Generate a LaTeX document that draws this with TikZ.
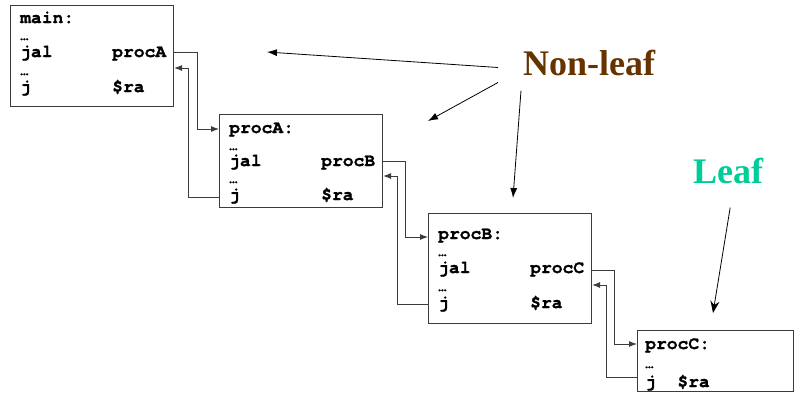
\documentclass[tikz,border=0pt]{standalone}
\usepackage{fontspec}
\setmainfont{Liberation Serif}
\setmonofont{TeX Gyre Cursor}[BoldFeatures={FakeBold=1.2}]
\usetikzlibrary{arrows.meta}

\definecolor{boxline}{RGB}{60,60,60}
\definecolor{nonleafbrown}{RGB}{102,51,0}
\definecolor{leafgreen}{RGB}{0,204,153}

% "jal <target>" with the target in the second column
\newcommand{\jalto}[1]{\makebox[92pt][l]{jal}#1}
\newcommand{\jra}{\makebox[92pt][l]{j}\$ra}

\begin{document}
\begin{tikzpicture}[x=1pt,y=-1pt,
  frame/.style={draw=boxline, line width=1.1pt, anchor=north west, inner sep=0pt},
  code/.style={font=\ttfamily\bfseries\fontsize{18pt}{18pt}\selectfont, inner sep=0pt, anchor=base west},
  dots/.style={font=\ttfamily\bfseries\fontsize{14pt}{14pt}\selectfont, inner sep=0pt, anchor=base west},
  bigword/.style={font=\bfseries\fontsize{36pt}{36pt}\selectfont, inner sep=0pt, anchor=base west},
  conn/.style={draw=boxline, line width=0.9pt, -{Latex[length=8pt,width=6pt]}},
  pointer/.style={line width=0.8pt, -{Latex[length=10pt,width=7pt]}},
  leafpointer/.style={line width=0.8pt, -{Stealth[length=12pt,width=9pt,inset=4pt]}}]

\useasboundingbox (0,0) rectangle (795,394);

% procedure frames
\node[frame, minimum width=163pt, minimum height=101pt] (main)  at (10,5)    {};
\node[frame, minimum width=163pt, minimum height=93pt]  (procA) at (219,114) {};
\node[frame, minimum width=163pt, minimum height=110pt] (procB) at (428,213) {};
\node[frame, minimum width=156pt, minimum height=61pt]  (procC) at (637,330) {};

% main
\node[code] (m1) at (20,23)  {main:};
\node[dots] (m2) at (20,40)  {…};
\node[code] (m3) at (20,57)  {\jalto{procA}};
\node[dots] (m4) at (20,75)  {…};
\node[code] (m5) at (20,92)  {\jra};

% procA
\node[code] (a1) at (229,133) {procA:};
\node[dots] (a2) at (229,150) {…};
\node[code] (a3) at (229,166) {\jalto{procB}};
\node[dots] (a4) at (229,183) {…};
\node[code] (a5) at (229,200) {\jra};

% procB
\node[code] (b1) at (438,239) {procB:};
\node[dots] (b2) at (438,256) {…};
\node[code] (b3) at (438,273) {\jalto{procC}};
\node[dots] (b4) at (438,291) {…};
\node[code] (b5) at (438,308) {\jra};

% procC
\node[code] (c1) at (645,349) {procC:};
\node[dots] (c2) at (645,368) {…};
\node[code] (c3) at (645,387) {j\hspace{10.7pt}\hspace{10.7pt}\$ra};

% calls (jal) and returns (j $ra)
\draw[conn] ([yshift=-47pt]main.north east)  -- ++(23,0) |- ([yshift=-15pt]procA.north west);
\draw[conn] ([yshift=-83pt]procA.north west) -- ++(-31,0) |- ([yshift=-63pt]main.north east);

\draw[conn] ([yshift=-47pt]procA.north east) -- ++(22,0) |- ([yshift=-24pt]procB.north west);
\draw[conn] ([yshift=-91pt]procB.north west) -- ++(-31,0) |- ([yshift=-62pt]procA.north east);

\draw[conn] ([yshift=-57pt]procB.north east) -- ++(22,0) |- ([yshift=-14pt]procC.north west);
\draw[conn] ([yshift=-47pt]procC.north west) -- ++(-31,0) |- ([yshift=-72pt]procB.north east);

% labels
\node[bigword, text=nonleafbrown] (nonleaf) at (523,75)  {Non-leaf};
\node[bigword, text=leafgreen]    (leaf)    at (693,183) {Leaf};

\coordinate (mainSpot)  at (267,52);
\coordinate (procASpot) at (428,121);
\coordinate (procBSpot) at (513,198);
\coordinate (procCSpot) at (713,313);

\draw[pointer] ([shift={(-25,5)}]nonleaf.west)  -- (mainSpot);
\draw[pointer] ([shift={(-25,20)}]nonleaf.west) -- (procASpot);
\draw[pointer] ([shift={(-2,15)}]nonleaf.south west) -- (procBSpot);
\draw[leafpointer] ([shift={(2,24)}]leaf.south) -- (procCSpot);

\end{tikzpicture}
\end{document}
